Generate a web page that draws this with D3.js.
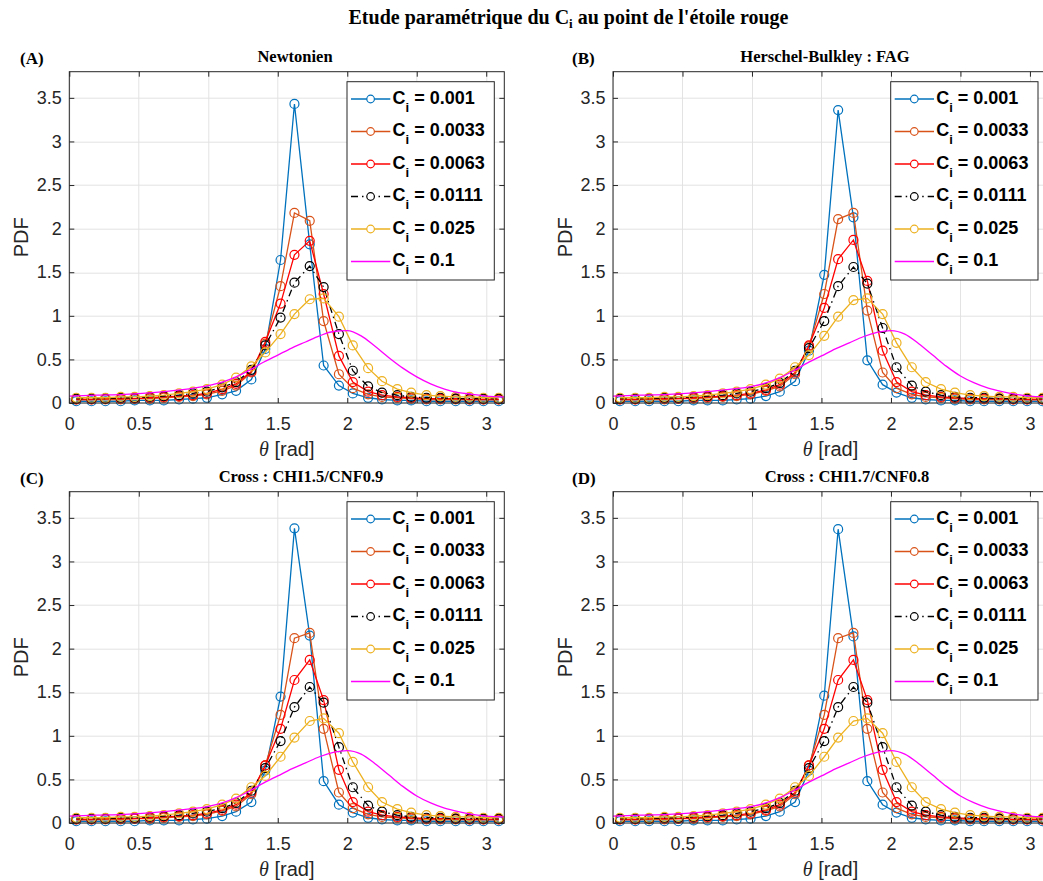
<!DOCTYPE html>
<html>
<head>
<meta charset="utf-8">
<script src="https://cdn.jsdelivr.net/npm/d3@7"></script>
<style>
  html, body { margin: 0; padding: 0; background: #fff; }
  svg { display: block; }
</style>
</head>
<body>
<svg id="chart" width="1043" height="881"></svg>
<script>
// ---------------- DATA ----------------
const thetaBins = [0.05,0.16,0.26,0.37,0.47,0.58,0.68,0.79,0.89,0.99,1.10,1.20,1.31,1.41,1.52,1.62,1.73,1.83,1.94,2.04,2.15,2.25,2.36,2.46,2.57,2.67,2.78,2.88,2.98,3.09];
const thetaFine = [0,0.2,0.4,0.6,0.8,1.0,1.1,1.2,1.3,1.4,1.5,1.6,1.7,1.8,1.9,2.0,2.1,2.2,2.3,2.4,2.5,2.6,2.7,2.8,2.9,3.0,3.13];

const ciLabels = ["0.001","0.0033","0.0063","0.0111","0.025","0.1"];
const xTicks = [0,0.5,1,1.5,2,2.5,3];
const yTicks = [0,0.5,1,1.5,2,2.5,3,3.5];
const panelTitles = ["Newtonien","Herschel-Bulkley : FAG","Cross : CHI1.5/CNF0.9","Cross : CHI1.7/CNF0.8"];
const panelLetters = ["(A)","(B)","(C)","(D)"];

// Panel A : Newtonien
const A_001  = [0.02,0.02,0.02,0.02,0.03,0.03,0.03,0.04,0.05,0.06,0.10,0.14,0.27,0.62,1.64,3.43,1.82,0.43,0.20,0.11,0.06,0.04,0.03,0.03,0.02,0.02,0.02,0.02,0.02,0.02];
const A_0033 = [0.04,0.04,0.04,0.04,0.05,0.05,0.06,0.07,0.08,0.10,0.14,0.20,0.35,0.68,1.34,2.18,2.09,0.94,0.33,0.17,0.10,0.07,0.06,0.05,0.04,0.04,0.04,0.04,0.04,0.04];
const A_0063 = [0.04,0.04,0.05,0.05,0.05,0.06,0.07,0.08,0.09,0.11,0.16,0.22,0.36,0.70,1.14,1.70,1.86,1.25,0.54,0.24,0.13,0.09,0.07,0.06,0.05,0.05,0.05,0.04,0.04,0.04];
const A_0111 = [0.05,0.05,0.05,0.06,0.06,0.07,0.08,0.09,0.11,0.13,0.18,0.24,0.38,0.66,0.98,1.38,1.57,1.33,0.79,0.37,0.19,0.12,0.09,0.07,0.06,0.06,0.05,0.05,0.05,0.05];
const A_025  = [0.06,0.06,0.06,0.07,0.07,0.08,0.09,0.11,0.13,0.16,0.21,0.29,0.42,0.58,0.79,1.02,1.19,1.20,0.99,0.66,0.40,0.25,0.16,0.12,0.09,0.08,0.07,0.07,0.06,0.06];
const A_1    = [0.08,0.09,0.10,0.12,0.15,0.20,0.24,0.30,0.38,0.47,0.55,0.63,0.70,0.77,0.82,0.83,0.77,0.65,0.52,0.40,0.30,0.22,0.16,0.12,0.10,0.08,0.07];

// Panel B : Herschel-Bulkley FAG
const B_001  = [0.02,0.02,0.02,0.02,0.02,0.03,0.03,0.03,0.04,0.05,0.08,0.13,0.25,0.60,1.47,3.36,2.13,0.49,0.21,0.12,0.06,0.04,0.03,0.03,0.02,0.02,0.02,0.02,0.02,0.02];
const B_0033 = [0.04,0.04,0.04,0.04,0.05,0.05,0.06,0.07,0.08,0.10,0.14,0.19,0.33,0.65,1.25,2.11,2.18,1.06,0.35,0.17,0.10,0.07,0.06,0.05,0.04,0.04,0.04,0.04,0.04,0.04];
const B_0063 = [0.04,0.04,0.05,0.05,0.05,0.06,0.07,0.08,0.09,0.11,0.15,0.21,0.35,0.66,1.09,1.65,1.87,1.40,0.60,0.24,0.13,0.09,0.07,0.06,0.05,0.05,0.05,0.04,0.04,0.04];
const B_0111 = [0.05,0.05,0.05,0.06,0.06,0.07,0.08,0.09,0.11,0.13,0.17,0.23,0.37,0.63,0.94,1.34,1.56,1.37,0.86,0.41,0.20,0.13,0.09,0.07,0.06,0.06,0.05,0.05,0.05,0.05];
const B_025  = [0.06,0.06,0.06,0.07,0.07,0.08,0.09,0.11,0.13,0.16,0.21,0.28,0.41,0.55,0.77,0.99,1.18,1.20,1.02,0.69,0.41,0.24,0.16,0.12,0.09,0.08,0.07,0.07,0.06,0.06];
const B_1    = [0.08,0.09,0.10,0.12,0.15,0.19,0.23,0.29,0.37,0.46,0.54,0.62,0.69,0.76,0.81,0.83,0.79,0.68,0.55,0.42,0.31,0.23,0.17,0.13,0.10,0.08,0.07];

// Panel C : Cross CHI1.5/CNF0.9
const C_001  = [0.02,0.02,0.02,0.02,0.02,0.03,0.03,0.03,0.04,0.05,0.08,0.13,0.24,0.60,1.45,3.38,2.15,0.48,0.21,0.12,0.06,0.04,0.03,0.03,0.02,0.02,0.02,0.02,0.02,0.02];
const C_0033 = [0.04,0.04,0.04,0.04,0.05,0.05,0.06,0.07,0.08,0.10,0.14,0.19,0.33,0.66,1.24,2.12,2.18,1.08,0.35,0.17,0.10,0.07,0.06,0.05,0.04,0.04,0.04,0.04,0.04,0.04];
const C_0063 = [0.04,0.04,0.05,0.05,0.05,0.06,0.07,0.08,0.09,0.11,0.15,0.21,0.35,0.66,1.08,1.64,1.87,1.41,0.61,0.24,0.13,0.09,0.07,0.06,0.05,0.05,0.05,0.04,0.04,0.04];
const C_0111 = [0.05,0.05,0.05,0.06,0.06,0.07,0.08,0.09,0.11,0.13,0.17,0.23,0.37,0.63,0.94,1.33,1.56,1.38,0.87,0.41,0.20,0.13,0.09,0.07,0.06,0.06,0.05,0.05,0.05,0.05];
const C_025  = [0.06,0.06,0.06,0.07,0.07,0.08,0.09,0.11,0.13,0.16,0.21,0.28,0.41,0.54,0.76,0.98,1.17,1.20,1.03,0.70,0.41,0.24,0.16,0.12,0.09,0.08,0.07,0.07,0.06,0.06];
const C_1    = [0.08,0.09,0.10,0.12,0.15,0.19,0.23,0.29,0.37,0.46,0.54,0.62,0.69,0.76,0.81,0.83,0.79,0.68,0.55,0.42,0.31,0.23,0.17,0.13,0.10,0.08,0.07];

// Panel D : Cross CHI1.7/CNF0.8
const D_001  = [0.02,0.02,0.02,0.02,0.02,0.03,0.03,0.03,0.04,0.05,0.08,0.13,0.24,0.60,1.46,3.37,2.14,0.48,0.21,0.12,0.06,0.04,0.03,0.03,0.02,0.02,0.02,0.02,0.02,0.02];
const D_0033 = [0.04,0.04,0.04,0.04,0.05,0.05,0.06,0.07,0.08,0.10,0.14,0.19,0.33,0.66,1.24,2.12,2.18,1.08,0.35,0.17,0.10,0.07,0.06,0.05,0.04,0.04,0.04,0.04,0.04,0.04];
const D_0063 = [0.04,0.04,0.05,0.05,0.05,0.06,0.07,0.08,0.09,0.11,0.15,0.21,0.35,0.66,1.08,1.64,1.87,1.41,0.61,0.24,0.13,0.09,0.07,0.06,0.05,0.05,0.05,0.04,0.04,0.04];
const D_0111 = [0.05,0.05,0.05,0.06,0.06,0.07,0.08,0.09,0.11,0.13,0.17,0.23,0.37,0.63,0.94,1.33,1.56,1.38,0.87,0.41,0.20,0.13,0.09,0.07,0.06,0.06,0.05,0.05,0.05,0.05];
const D_025  = [0.06,0.06,0.06,0.07,0.07,0.08,0.09,0.11,0.13,0.16,0.21,0.28,0.41,0.54,0.76,0.98,1.17,1.20,1.03,0.70,0.41,0.24,0.16,0.12,0.09,0.08,0.07,0.07,0.06,0.06];
const D_1    = [0.08,0.09,0.10,0.12,0.15,0.19,0.23,0.29,0.37,0.46,0.54,0.62,0.69,0.76,0.81,0.83,0.79,0.68,0.55,0.42,0.31,0.23,0.17,0.13,0.10,0.08,0.07];

// ---------------- STYLE / LAYOUT ----------------
const seriesStyle = [
  {color:"#0072BD", dash:null, marker:true},
  {color:"#D95319", dash:null, marker:true},
  {color:"#FF0000", dash:null, marker:true},
  {color:"#000000", dash:"7,4,1.5,4", marker:true},
  {color:"#EDB120", dash:null, marker:true},
  {color:"#FF00FF", dash:null, marker:false}
];
const panelData = [
  [A_001,A_0033,A_0063,A_0111,A_025,A_1],
  [B_001,B_0033,B_0063,B_0111,B_025,B_1],
  [C_001,C_0033,C_0063,C_0111,C_025,C_1],
  [D_001,D_0033,D_0063,D_0111,D_025,D_1]
];
const panelPos = [
  {left:69.3, top:71.7, titleX:295, letterX:20},
  {left:613,  top:71.7, titleX:825, letterX:572},
  {left:69.3, top:491.7, titleX:301, letterX:20},
  {left:613,  top:491.7, titleX:847, letterX:572}
];
const PW = 435, PH = 331.3;
const axisColor = "#262626";
const sans = "Arial, 'Liberation Sans', Helvetica, sans-serif";
const serif = "'Times New Roman', 'Liberation Serif', Times, serif";

const svg = d3.select("#chart");

// Main title
const mt = svg.append("text")
  .attr("x", 568.5).attr("y", 24)
  .attr("text-anchor","middle")
  .attr("font-family", serif).attr("font-weight","bold").attr("font-size", 20)
  .attr("fill","#000");
mt.append("tspan").text("Etude paramétrique du C");
mt.append("tspan").attr("font-size", 13).attr("dy", 4).text("i");
mt.append("tspan").attr("dy", -4).text(" au point de l'étoile rouge");

panelPos.forEach((p, pi) => {
  const g = svg.append("g").attr("transform", `translate(${p.left},${p.top})`);
  const x = d3.scaleLinear().domain([0, 3.13]).range([0, PW]);
  const y = d3.scaleLinear().domain([0, 3.8]).range([PH, 0]);

  g.append("rect").attr("width", PW).attr("height", PH).attr("fill", "#fff");

  // grid
  g.append("g").selectAll("line").data(xTicks).join("line")
    .attr("x1", d => Math.round(x(d))+0.5).attr("x2", d => Math.round(x(d))+0.5)
    .attr("y1", 0).attr("y2", PH)
    .attr("stroke", "#e3e3e3").attr("stroke-width", 1);
  g.append("g").selectAll("line").data(yTicks).join("line")
    .attr("y1", d => Math.round(y(d))+0.5).attr("y2", d => Math.round(y(d))+0.5)
    .attr("x1", 0).attr("x2", PW)
    .attr("stroke", "#e3e3e3").attr("stroke-width", 1);

  // series
  const data = panelData[pi];
  const lineGen = d3.line().x(d => x(d[0])).y(d => y(d[1]));
  const smoothGen = d3.line().x(d => x(d[0])).y(d => y(d[1])).curve(d3.curveMonotoneX);
  data.forEach((vals, si) => {
    const st = seriesStyle[si];
    const xs = st.marker ? thetaBins : thetaFine;
    const pts = vals.map((v, k) => [xs[k], v]);
    g.append("path").datum(pts)
      .attr("d", st.marker ? lineGen : smoothGen)
      .attr("fill", "none").attr("stroke", st.color)
      .attr("stroke-width", 1.3)
      .attr("stroke-dasharray", st.dash);
    if (st.marker) {
      g.append("g").selectAll("circle").data(pts).join("circle")
        .attr("cx", d => x(d[0])).attr("cy", d => y(d[1])).attr("r", 4.5)
        .attr("fill", "none").attr("stroke", st.color).attr("stroke-width", 1.2);
    }
  });

  // axes (ticks inside, MATLAB style)
  const ax = g.append("g").attr("transform", `translate(0,${PH})`)
    .call(d3.axisBottom(x).tickValues(xTicks).tickFormat(d3.format("~g")).tickSizeInner(-5).tickSizeOuter(0).tickPadding(14.2));
  const ay = g.append("g")
    .call(d3.axisLeft(y).tickValues(yTicks).tickFormat(d3.format("~g")).tickSizeInner(-5).tickSizeOuter(0).tickPadding(7.5));
  const axT = g.append("g")
    .call(d3.axisTop(x).tickValues(xTicks).tickFormat("").tickSizeInner(-5).tickSizeOuter(0));
  const ayR = g.append("g").attr("transform", `translate(${PW},0)`)
    .call(d3.axisRight(y).tickValues(yTicks).tickFormat("").tickSizeInner(-5).tickSizeOuter(0));
  [ax, ay, axT, ayR].forEach(a => {
    a.select(".domain").remove();
    a.selectAll("line").attr("stroke", axisColor);
    a.selectAll("text").attr("font-family", sans).attr("font-size", 18).attr("fill", axisColor);
  });
  g.append("rect").attr("x",0).attr("y",0).attr("width",PW).attr("height",PH)
    .attr("fill","none").attr("stroke", axisColor).attr("stroke-width", 1);

  // axis labels
  const xl = svg.append("text")
    .attr("x", p.left + 217.5).attr("y", p.top + PH + 53)
    .attr("text-anchor","middle").attr("font-family", sans).attr("font-size", 20).attr("fill", axisColor);
  xl.append("tspan").attr("font-style","italic").attr("font-family", serif).text("θ");
  xl.append("tspan").text(" [rad]");
  svg.append("text")
    .attr("transform", `translate(${p.left - 41},${p.top + PH/2}) rotate(-90)`)
    .attr("text-anchor","middle").attr("font-family", sans).attr("font-size", 20).attr("fill", axisColor)
    .text("PDF");

  // panel title and letter
  svg.append("text").attr("x", p.titleX).attr("y", p.top - 10)
    .attr("text-anchor","middle").attr("font-family", serif).attr("font-weight","bold").attr("font-size", 16.5)
    .text(panelTitles[pi]);
  svg.append("text").attr("x", p.letterX).attr("y", p.top - 7.5)
    .attr("font-family", serif).attr("font-weight","bold").attr("font-size", 17)
    .text(panelLetters[pi]);

  // legend
  const lw = 147.3, lh = 198.3;
  const lx = PW - 10 - lw, ly = 10;
  const lg = g.append("g").attr("transform", `translate(${lx},${ly})`);
  lg.append("rect").attr("width", lw).attr("height", lh).attr("fill","#fff")
    .attr("stroke", "#262626").attr("stroke-width", 1);
  ciLabels.forEach((lab, si) => {
    const st = seriesStyle[si];
    const cy = 17.3 + si * 32.5;
    lg.append("line").attr("x1", 4).attr("x2", 43.3).attr("y1", cy).attr("y2", cy)
      .attr("stroke", st.color).attr("stroke-width", 1.3).attr("stroke-dasharray", st.dash);
    if (st.marker) {
      lg.append("circle").attr("cx", 23.6).attr("cy", cy).attr("r", 3.8)
        .attr("fill","#fff").attr("stroke", st.color).attr("stroke-width", 1.2);
    }
    const t = lg.append("text").attr("x", 45.5).attr("y", cy + 4.8)
      .attr("font-family", sans).attr("font-weight","bold").attr("font-size", 18).attr("fill","#000");
    t.append("tspan").text("C");
    t.append("tspan").attr("font-size", 13).attr("dy", 8).text("i");
    t.append("tspan").attr("dy", -8).text(" = " + lab);
  });
});
</script>
</body>
</html>
